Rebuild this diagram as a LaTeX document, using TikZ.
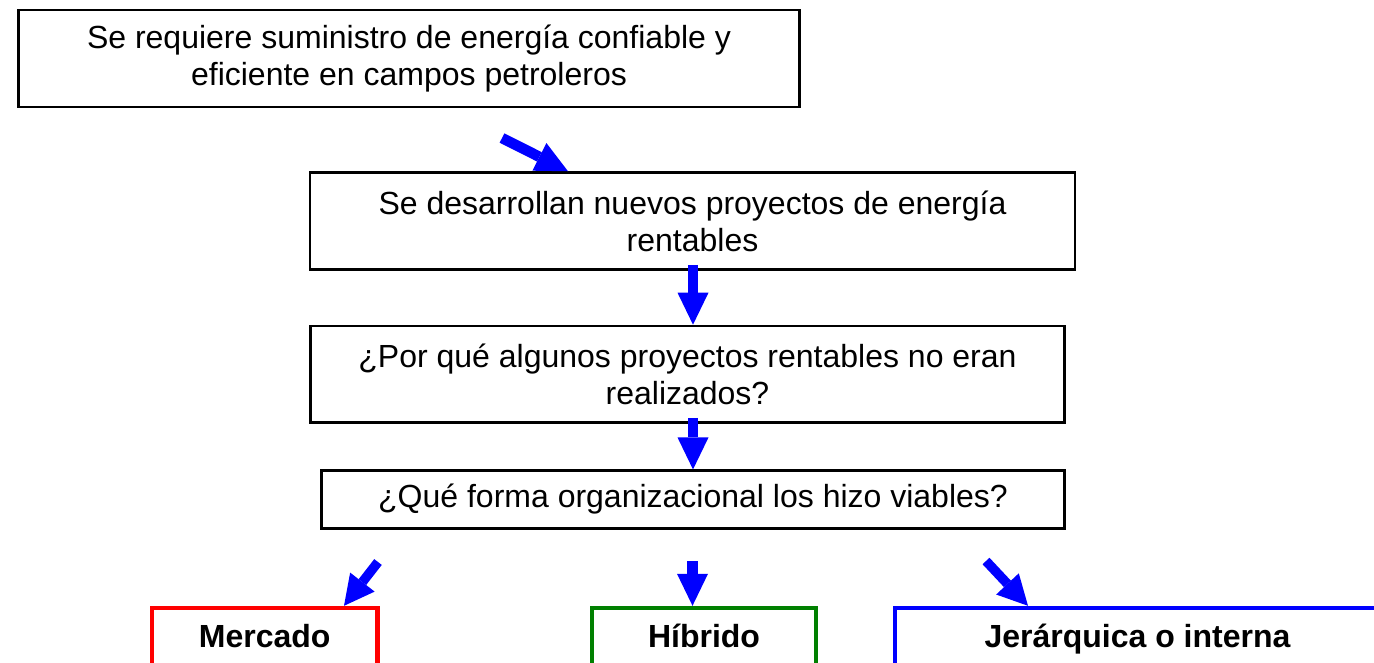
\documentclass[tikz,border=0pt]{standalone}
\usepackage{fontspec}
\setmainfont{Liberation Sans}
\usetikzlibrary{arrows.meta}
\definecolor{pgreen}{RGB}{0,128,0}
\begin{document}
\begin{tikzpicture}[x=1pt,y=-1pt,
  txtbox/.style={draw=black,line width=2.5pt,rectangle,inner sep=0pt,align=center,
    font=\fontsize{32}{37}\selectfont},
  outbox/.style={rectangle,line width=4.5pt,inner xsep=0pt,inner ysep=0pt,anchor=north,
    font=\fontsize{32}{38}\selectfont\bfseries,text height=39.5pt,text depth=45pt},
  barrow/.style={draw=blue,line width=10.5pt,
    -{Triangle[length=32pt,width=31pt,line width=0pt]}},
  darrow/.style={draw=blue,line width=9.5pt,
    -{Triangle[length=30pt,width=31pt,line width=0pt]}}]
\useasboundingbox (0,0) rectangle (1374,662);
\clip (0,0) rectangle (1374,662);
% main boxes
\node[txtbox,minimum width=781pt,minimum height=97pt] (b1) at (409,58.5)
  {Se requiere suministro de energía confiable y\\eficiente en campos petroleros};
\node[txtbox,minimum width=765pt,minimum height=97pt] (b2) at (692.5,221)
  {Se desarrollan nuevos proyectos de energía\\rentables};
\node[txtbox,minimum width=753.6pt,minimum height=96.7pt] (b3) at (687.5,374.3)
  {¿Por qué algunos proyectos rentables no eran\\realizados?};
\node[txtbox,minimum width=742.6pt,minimum height=57.6pt] (b4) at (693,499.5)
  {¿Qué forma organizacional los hizo viables?};
% outcome boxes
\node[outbox,draw=red,minimum width=225.5pt] (mk) at (264.7,605.8) {Mercado};
\node[outbox,draw=pgreen,minimum width=224pt] (hb) at (704,605.8) {Híbrido};
\node[outbox,draw=blue,minimum width=485pt] (jq) at (1137.5,605.8) {Jerárquica o interna};
% connector coordinates
\coordinate (a1s) at (502,138);
\coordinate (a1x) at (568,0);
\coordinate (vx) at (693,0);
\coordinate (ms) at (378,562);
\coordinate (mx) at (344,0);
\coordinate (hs) at (692.5,561);
\coordinate (js) at (986,561);
\coordinate (jx) at (1028,0);
% arrows
\draw[barrow] (a1s) -- (a1x |- b2.north);
\draw[barrow] ([yshift=6pt]b2.south -| vx) -- (b3.north -| vx);
\draw[barrow] ([yshift=6pt]b3.south -| vx) -- (b4.north -| vx);
\draw[darrow] (ms) -- (mx |- mk.north);
\draw[barrow] (hs) -- (hs |- hb.north);
\draw[darrow] (js) -- (jx |- jq.north);
\end{tikzpicture}
\end{document}
